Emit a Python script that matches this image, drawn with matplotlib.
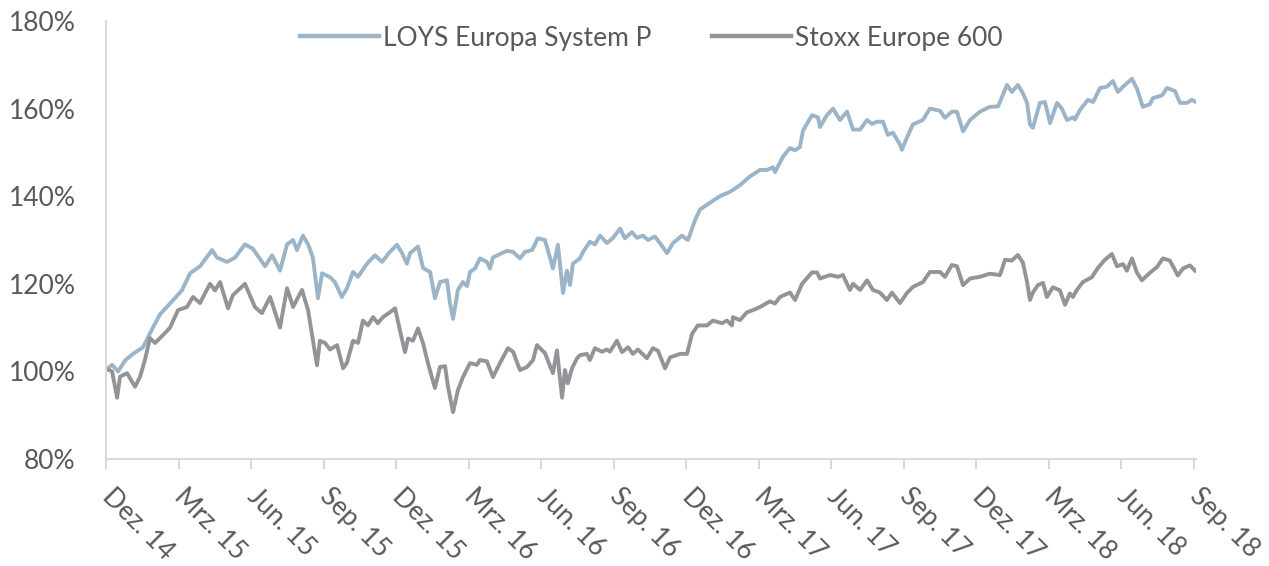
import matplotlib
matplotlib.use("Agg")
import matplotlib.pyplot as plt
from matplotlib.ticker import FuncFormatter

plt.rcParams['font.family'] = ['Lato', 'DejaVu Sans']

# x in months since Dez. 14
loys_x = [0.04,0.25,0.50,0.79,1.12,1.53,1.94,2.23,2.65,3.14,3.48,3.89,4.39,4.59,5.01,5.34,5.75,6.08,6.58,6.87,
          7.20,7.49,7.74,7.90,8.15,8.36,8.56,8.77,8.94,9.27,9.47,9.76,9.97,10.22,10.43,10.80,11.13,11.42,11.75,12.04,
          12.25,12.45,12.58,12.91,13.12,13.41,13.61,13.82,14.11,14.23,14.36,14.56,14.77,14.94,15.06,15.27,15.47,15.76,15.89,16.01,
          16.38,16.59,16.84,17.13,17.34,17.63,17.87,18.16,18.37,18.49,18.70,18.91,19.07,19.20,19.32,19.61,19.74,20.02,20.23,20.44,
          20.73,20.98,21.27,21.47,21.76,21.97,22.22,22.42,22.71,22.92,23.21,23.46,23.83,24.08,24.37,24.58,24.99,25.40,25.82,26.23,
          26.64,27.06,27.35,27.60,27.68,28.01,28.30,28.51,28.71,28.84,29.21,29.46,29.54,29.83,30.08,30.37,30.66,30.91,31.20,31.49,
          31.69,31.90,32.15,32.35,32.56,32.85,32.93,33.14,33.39,33.80,34.09,34.51,34.71,35.00,35.21,35.46,35.75,36.16,36.57,36.91,
          37.28,37.48,37.73,37.94,38.11,38.23,38.35,38.64,38.85,39.06,39.35,39.55,39.76,40.01,40.09,40.30,40.63,40.84,41.13,41.41,
          41.66,41.87,42.08,42.45,42.66,42.90,43.19,43.32,43.69,43.90,44.23,44.44,44.72,44.93,45.06]
loys_y = [100.5,101.5,100,102.5,104,105.5,110,113,115.5,118.5,122.4,124,127.7,126,125,126,129,128,124,126.5,
          123,129,130,127.7,131,129,126,116.7,122.4,121.5,120.4,117,119,122.7,121.6,124.6,126.5,125,127.3,128.9,
          127,124.6,127,128.5,123.6,122.7,116.7,120.4,120.8,115.6,112,118.6,120.4,119.5,122.7,123.5,125.8,125,123.5,126,
          127,127.5,127.3,125.8,127.3,127.7,130.4,130,126,123.5,128.9,117.9,123,119.7,124.6,125.8,127.3,129.6,129,131,
          129.3,130.5,132.6,130.4,131.8,130.5,131,130,130.8,129.3,127,129.3,131,130,134.5,137,138.5,140,141,142.5,
          144.5,146,146,146.6,145.5,149,151,150.5,151.2,155,158.5,158,155.8,158.5,160,157.4,159.3,155.2,155.2,157.4,
          156.5,157,157,154,154.5,151.8,150.6,153.4,156.4,157.4,160,159.5,157.9,159.3,159.3,154.8,157.4,159.3,160.4,160.5,
          165.4,163.8,165.4,163.5,161.3,156.4,155.6,161.3,161.5,156.7,161.3,160,157.4,158,157.5,159.7,162,161.5,164.7,165,
          166.3,163.8,165,166.8,164.5,160.4,161,162.4,163,164.7,164,161.3,161.3,162,161.6]

stoxx_x = [0.04,0.25,0.46,0.58,0.87,1.20,1.41,1.61,1.82,2.03,2.36,2.65,2.98,3.35,3.60,3.89,4.30,4.51,4.72,5.05,
           5.25,5.75,6.16,6.45,6.79,7.20,7.49,7.74,8.11,8.36,8.73,8.85,9.06,9.27,9.56,9.81,9.97,10.22,10.43,10.63,
           10.84,11.05,11.25,11.46,11.75,11.96,12.16,12.37,12.50,12.70,12.91,13.12,13.32,13.61,13.82,14.03,14.15,14.36,14.56,14.77,
           15.06,15.35,15.47,15.76,16.01,16.30,16.63,16.84,17.13,17.42,17.67,17.83,18.16,18.49,18.66,18.87,18.99,19.11,19.28,19.49,19.61,
           19.90,20.02,20.23,20.52,20.73,20.85,21.14,21.35,21.60,21.80,22.01,22.38,22.63,22.84,23.13,23.34,23.75,24.04,24.25,24.49,
           24.87,25.11,25.49,25.69,25.90,25.94,26.23,26.52,26.77,27.06,27.47,27.68,27.89,28.30,28.51,28.80,29.21,29.42,29.54,29.96,
           30.29,30.49,30.78,30.91,31.20,31.49,31.73,32.02,32.31,32.52,32.85,33.14,33.39,33.80,34.09,34.51,34.71,35.00,35.21,35.46,
           35.75,36.16,36.57,36.99,37.20,37.48,37.73,37.94,38.11,38.23,38.35,38.56,38.77,38.93,39.18,39.47,39.68,39.88,40.01,40.17,
           40.42,40.79,41.04,41.33,41.62,41.83,42.08,42.24,42.45,42.66,42.86,43.19,43.48,43.73,44.02,44.35,44.56,44.85,45.06]
stoxx_y = [100.5,100,94,98.8,99.6,96.5,98.8,102.6,107.6,106.5,108.3,110,114,114.7,117,115.6,120,118.5,120.4,114.4,
           117.4,120,114.7,113.3,117,110,119,114.7,118.6,114,101.4,107,106.5,105,106,100.7,102,107,106.5,111.6,
           110.5,112.4,111,112.4,113.5,114.4,109.4,104.4,107.5,107,109.8,106.4,101.9,96.2,101,101.2,96.5,90.7,95.7,98.7,
           101.9,101.5,102.6,102.3,98.7,101.9,105.3,104.5,100.3,101,102.6,106,104.2,99.6,104.8,94,100.3,97.3,100.7,103,103.7,
           104,102.6,105.3,104.5,105,104.5,107,104.4,105.5,104,105,103,105.3,104.7,100.7,103.2,104,104,108.6,110.5,
           110.5,111.6,111,111.6,110.5,112.4,111.7,113.5,114,114.7,116,115.5,117,118,116.3,120,122.6,122.6,121.2,122,
           121.6,122,118.6,120,118.6,120.8,118.6,118,116.3,118,115.6,117.9,119.3,120.4,122.7,122.7,121.6,124.3,124,119.7,
           121.2,121.6,122.3,122,125.5,125.3,126.6,124.8,120.4,116.3,118,119.7,120.2,117,119.2,118.5,115.2,117.8,117,118.6,
           120.4,121.5,123.6,125.5,126.8,124,124.5,123,125.8,122.5,120.8,122.5,123.8,125.8,125.3,121.9,123.5,124.2,123]

tick_months = [0, 3, 6, 9, 12, 15, 18, 21, 24, 27, 30, 33, 36, 39, 42, 45]
tick_labels = ["Dez. 14", "Mrz. 15", "Jun. 15", "Sep. 15", "Dez. 15", "Mrz. 16", "Jun. 16", "Sep. 16",
               "Dez. 16", "Mrz. 17", "Jun. 17", "Sep. 17", "Dez. 17", "Mrz. 18", "Jun. 18", "Sep. 18"]
y_ticks = [80, 100, 120, 140, 160, 180]

fig = plt.figure(figsize=(12.69, 5.66), dpi=100)
ax = fig.add_axes([106/1269, 1 - 459/566, 1090/1269, 438/566])

ax.plot(loys_x, loys_y, color='#9bb4c8', lw=2.8, label='LOYS Europa System P', solid_joinstyle='round')
ax.plot(stoxx_x, stoxx_y, color='#939497', lw=2.8, label='Stoxx Europe 600', solid_joinstyle='round')

ax.set_xlim(0, 45.1)
ax.set_ylim(80, 180)
ax.set_yticks(y_ticks)
ax.yaxis.set_major_formatter(FuncFormatter(lambda v, p: f"{v:.0f}%"))
ax.set_xticks(tick_months)
ax.set_xticklabels(tick_labels, rotation=-45, ha='left', va='center', rotation_mode='anchor')

for s in ['top', 'right']:
    ax.spines[s].set_visible(False)
for s in ['left', 'bottom']:
    ax.spines[s].set_color('#d9d9d9')
    ax.spines[s].set_linewidth(1.5)
ax.tick_params(axis='y', length=0, pad=22, labelsize=19, labelcolor='#595959')
ax.tick_params(axis='x', length=7, width=1.5, color='#d9d9d9', pad=17, labelsize=19, labelcolor='#595959')

leg = ax.legend(loc='center', bbox_to_anchor=(0.5, 0.961), ncol=2, frameon=False,
                fontsize=19, labelcolor='#595959', handlelength=3.0, columnspacing=2.3, handletextpad=0.15)
for h in leg.get_lines():
    h.set_linewidth(3.2)

fig.savefig('out.png', dpi=100)
